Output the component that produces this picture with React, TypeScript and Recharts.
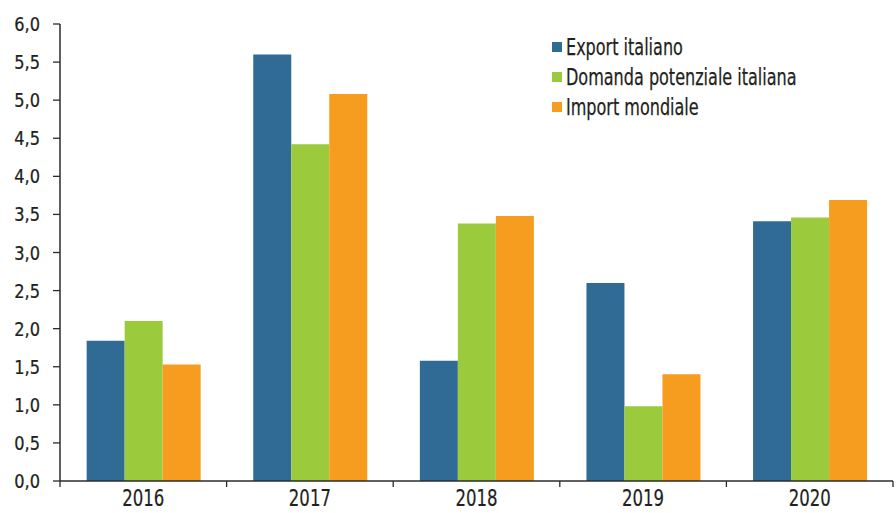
import React from 'react';
import { BarChart, Bar, XAxis, YAxis } from 'recharts';

const years = ['2016', '2017', '2018', '2019', '2020'];
const exportItaliano = [1.84, 5.6, 1.58, 2.6, 3.41];
const domandaPotenziale = [2.1, 4.42, 3.38, 0.98, 3.46];
const importMondiale = [1.53, 5.08, 3.48, 1.4, 3.69];
const yTicks = [0, 0.5, 1, 1.5, 2, 2.5, 3, 3.5, 4, 4.5, 5, 5.5, 6];

const seriesNames = ['Export italiano', 'Domanda potenziale italiana', 'Import mondiale'];
const colors = ['#306b96', '#9bca3c', '#f69d1f'];

const data = years.map((y, i) => ({
  year: y,
  exp: exportItaliano[i],
  dom: domandaPotenziale[i],
  imp: importMondiale[i],
}));

const FONT = '"DejaVu Sans Condensed", "DejaVu Sans", sans-serif';
const AXIS = '#2b2b2b';
const TEXT = '#231f20';

const XTick = (props: any) => {
  const { x, y, payload, index, visibleTicksCount } = props;
  const half = payload && payload.offset ? payload.offset : 83.3;
  return (
    <g>
      <line x1={x - half} x2={x - half} y1={y} y2={y + 6} stroke={AXIS} strokeWidth={1.3} />
      {index === visibleTicksCount - 1 && (
        <line x1={x + half} x2={x + half} y1={y} y2={y + 6} stroke={AXIS} strokeWidth={1.3} />
      )}
      <text
        transform={`translate(${x},${y + 25}) scale(0.8,1)`}
        textAnchor="middle"
        fill={TEXT}
        stroke={TEXT}
        strokeWidth={0.2}
        fontSize={23}
        fontFamily={FONT}
      >
        {payload.value}
      </text>
    </g>
  );
};

const YTick = (props: any) => {
  const { x, y, payload } = props;
  return (
    <text
      transform={`translate(${x},${y + 7}) scale(0.9,1)`}
      textAnchor="end"
      fill={TEXT}
      stroke={TEXT}
      strokeWidth={0.25}
      fontSize={20}
      fontFamily={FONT}
    >
      {Number(payload.value).toFixed(1).replace('.', ',')}
    </text>
  );
};

const LegendBox = () => (
  <div
    style={{
      position: 'absolute',
      left: 552,
      top: 32,
      fontFamily: FONT,
      fontSize: 23,
      color: TEXT,
      whiteSpace: 'nowrap',
      WebkitTextStroke: '0.25px ' + TEXT,
    }}
  >
    {seriesNames.map((n, i) => (
      <div key={n} style={{ display: 'flex', alignItems: 'center', height: 30 }}>
        <span style={{ display: 'inline-block', width: 10, height: 10, background: colors[i], marginRight: 4 }} />
        <span style={{ display: 'inline-block', transform: 'scaleX(0.775)', transformOrigin: 'left center' }}>{n}</span>
      </div>
    ))}
  </div>
);

export default function App() {
  return (
    <div style={{ position: 'fixed', left: 0, top: 0, width: 896, height: 513, background: '#fff' }}>
      <BarChart
        width={896}
        height={513}
        data={data}
        margin={{ top: 24, right: 3, bottom: 0, left: 0 }}
        barCategoryGap="16%"
        barGap={0}
      >
        <XAxis
          dataKey="year"
          tickLine={false}
          tickSize={0}
          tickMargin={0}
          height={32}
          axisLine={{ stroke: AXIS, strokeWidth: 1.5 }}
          tick={<XTick />}
          interval={0}
        />
        <YAxis
          domain={[0, 6]}
          ticks={yTicks}
          width={60}
          tickSize={7}
          tickMargin={13}
          interval={0}
          axisLine={{ stroke: AXIS, strokeWidth: 1.5 }}
          tickLine={{ stroke: AXIS, strokeWidth: 1.3 }}
          tick={<YTick />}
        />
        <Bar dataKey="exp" name={seriesNames[0]} fill={colors[0]} isAnimationActive={false} />
        <Bar dataKey="dom" name={seriesNames[1]} fill={colors[1]} isAnimationActive={false} />
        <Bar dataKey="imp" name={seriesNames[2]} fill={colors[2]} isAnimationActive={false} />
      </BarChart>
      <LegendBox />
    </div>
  );
}
